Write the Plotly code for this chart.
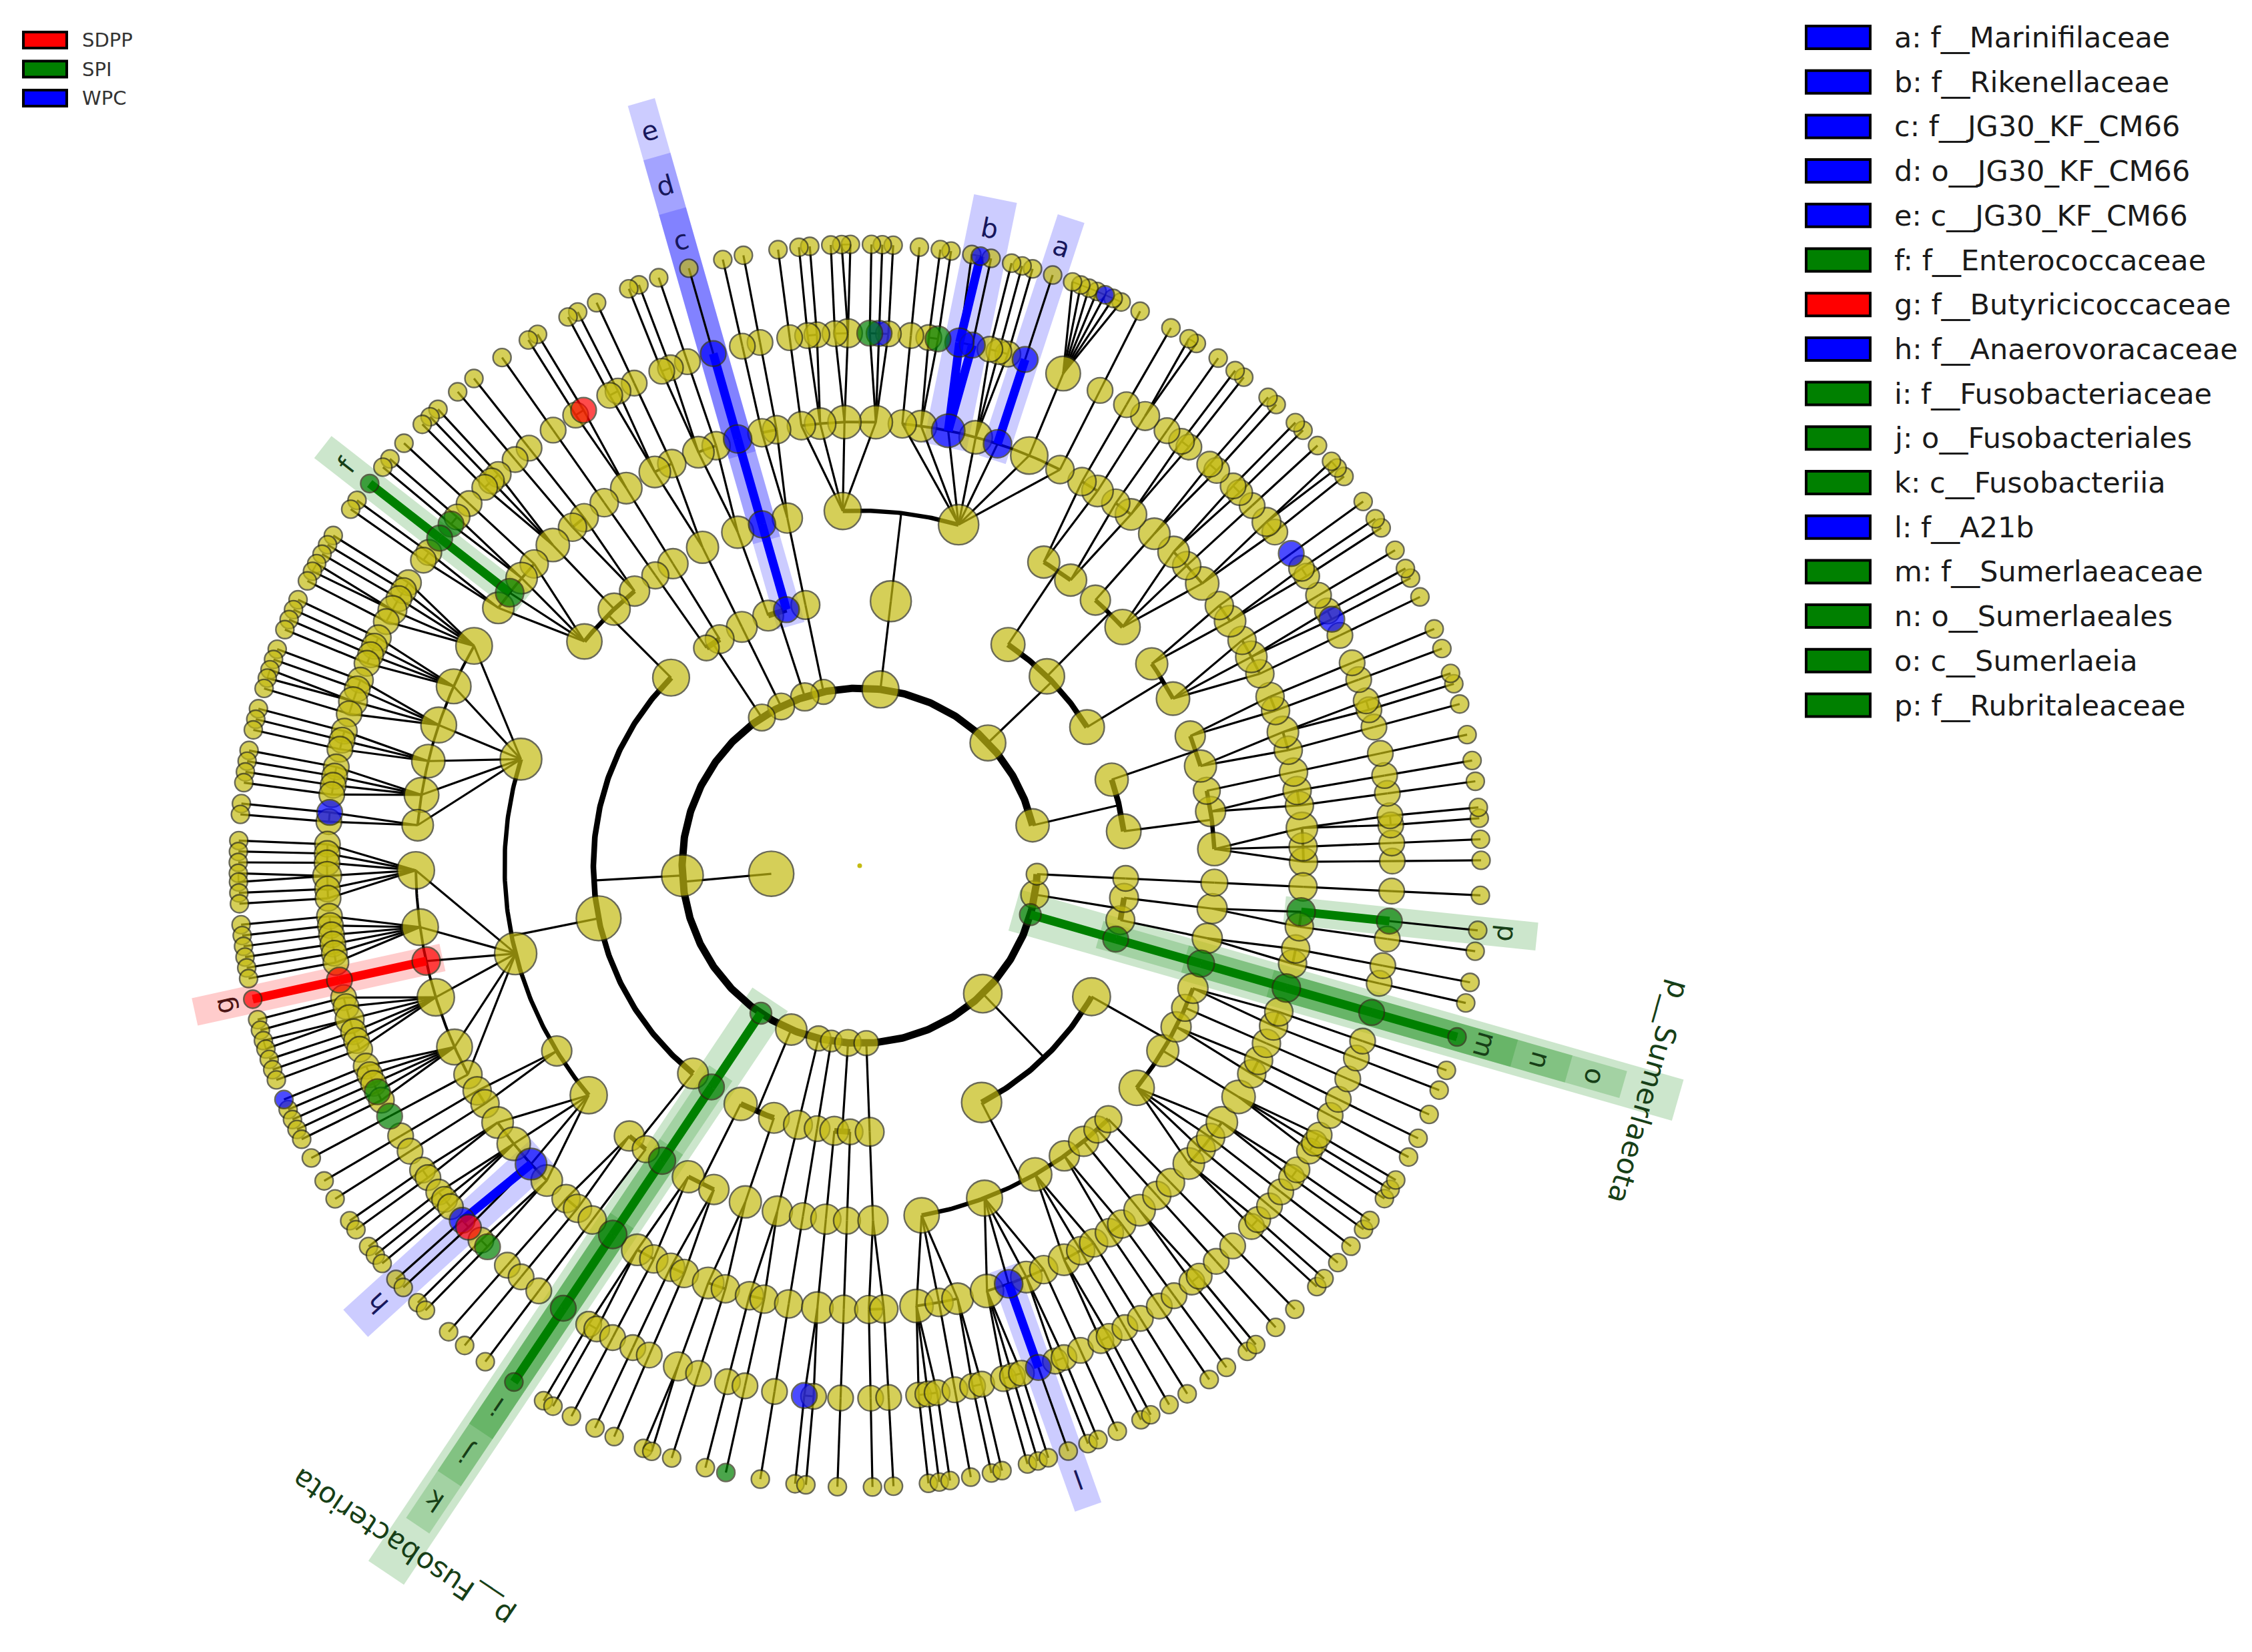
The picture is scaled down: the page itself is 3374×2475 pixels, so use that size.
import math
import plotly.graph_objects as go

# ------------------------------------------------------------------
# groups
group_names = ["SDPP", "SPI", "WPC"]
group_colors = ["#ff0000", "#008000", "#0000ff"]
group_fills = ["rgba(255,0,0,0.2)", "rgba(0,128,0,0.2)", "rgba(0,0,255,0.2)"]
group_text = ["#4d1414", "#173f17", "#17175c"]

# taxonomy tree, counter-clockwise: phylum -> class -> order -> family -> species per genus
phyla = [
    # 0
    [[[[1], [1], [1, 1]], [[1], [1]], [[1]]],
     [[[1], [1, 1]], [[1], [1]]]],
    # 1
    [[[[1], [1, 1], [1]], [[1, 1], [1]]],
     [[[1, 2], [1], [1, 1]], [[1, 1]]],
     [[[1, 1], [1]], [[2], [1]]]],
    # 2 Bacteroidota
    [[[[1], [7], [1], [1, 1, 1], [1, 2], [1, 1], [1]],
      [[1, 1, 1], [2, 1], [1, 1], [1]]]],
    # 3
    [[[[1], [1]]]],
    # 4 Chloroflexi
    [[[[1]]], [[[1], [1, 1]]]],
    # 5
    [[[[1], [1, 1]]]],
    # 6
    [[[[1, 1]]], [[[1]]]],
    # 7 Firmicutes
    [[[[1], [1]], [[1, 1, 1]], [[1], [1, 1], [1], [1, 1]]],
     [[[1, 1, 1, 2, 1], [1, 1, 1, 1], [1, 1, 2, 1], [1, 1, 1], [1, 1, 1, 1], [1, 1]],
      [[1, 1, 1, 2, 1, 1], [1, 1, 1, 1, 1, 1], [1], [1, 1, 2, 1, 1, 1], [1, 1, 1, 1, 1], [1]],
      [[1], [1]],
      [[1, 1], [1, 1, 1], [1, 1], [1, 1]]],
     [[[1], [1]], [[1]]]],
    # 8 Fusobacteriota
    [[[[1]]]],
    # 9
    [[[[1, 1], [1]], [[1], [1]]], [[[2], [1]]]],
    # 10 .. 13
    [[[[1], [1]]]],
    [[[[1]]]],
    [[[[1, 1]]], [[[1]]]],
    [[[[1], [1]]]],
    # 14 Proteobacteria
    [[[[1, 1, 1], [1], [1, 1]], [[1, 1, 1], [1], [1, 1], [1]], [[1, 1], [1], [1]],
      [[1], [1]], [[1, 1]], [[1]], [[1]]],
     [[[1, 1], [1], [1], [1, 1]], [[1, 1, 1]], [[1], [1]], [[1]], [[1], [1]]]],
    # 15 Sumerlaeota
    [[[[1]]]],
    # 16 Verrucomicrobiota
    [[[[1], [1]]], [[[1], [1]]]],
    # 17
    [[[[1]]]],
]

# biomarker nodes (tree paths) per group
sdpp_nodes = [(6, 0, 0, 0, 0), (7, 1, 1, 2), (7, 1, 1, 2, 0), (7, 1, 1, 2, 0, 0), (7, 1, 3, 2, 1)]
spi_nodes = [(2, 0, 0, 5, 0), (2, 0, 1, 0, 2),
             (7, 0, 2, 2), (7, 0, 2, 2, 0), (7, 0, 2, 2, 0, 0), (7, 0, 2, 1, 1),
             (7, 1, 1, 4, 3), (7, 1, 1, 5, 0), (7, 1, 3, 3, 1),
             (8,), (8, 0), (8, 0, 0), (8, 0, 0, 0), (8, 0, 0, 0, 0), (8, 0, 0, 0, 0, 0),
             (10, 0, 0, 1, 0, 0),
             (15,), (15, 0), (15, 0, 0), (15, 0, 0, 0), (15, 0, 0, 0, 0), (15, 0, 0, 0, 0, 0),
             (16, 1, 0, 1), (16, 1, 0, 1, 0)]
wpc_nodes = [(1, 0, 0, 1, 0), (1, 0, 1, 1, 0),
             (2, 0, 0, 1, 0, 2), (2, 0, 0, 2), (2, 0, 0, 2, 0),
             (2, 0, 0, 4), (2, 0, 0, 4, 0), (2, 0, 0, 4, 1), (2, 0, 0, 4, 1, 0),
             (2, 0, 1, 0, 1),
             (4, 0), (4, 0, 0), (4, 0, 0, 0), (4, 0, 0, 0, 0),
             (7, 1, 0, 5, 0), (7, 1, 1, 4, 0, 0), (7, 1, 3, 2), (7, 1, 3, 2, 0),
             (12, 0, 0, 0, 0), (14, 0, 1, 1), (14, 0, 1, 1, 0)]

# labelled clades: letter, name, group index, path
label_letters = list("abcdefghijklmnop")
label_names = ["f__Marinifilaceae", "f__Rikenellaceae", "f__JG30_KF_CM66", "o__JG30_KF_CM66",
               "c__JG30_KF_CM66", "f__Enterococcaceae", "f__Butyricicoccaceae",
               "f__Anaerovoracaceae", "f__Fusobacteriaceae", "o__Fusobacteriales",
               "c__Fusobacteriia", "f__A21b", "f__Sumerlaeaceae", "o__Sumerlaeales",
               "c__Sumerlaeia", "f__Rubritaleaceae"]
label_groups = [2, 2, 2, 2, 2, 1, 0, 2, 1, 1, 1, 2, 1, 1, 1, 1]
label_paths = [(2, 0, 0, 2), (2, 0, 0, 4), (4, 0, 0, 0), (4, 0, 0), (4, 0),
               (7, 0, 2, 2), (7, 1, 1, 2), (7, 1, 3, 2), (8, 0, 0, 0), (8, 0, 0), (8, 0),
               (14, 0, 1, 1), (15, 0, 0, 0), (15, 0, 0), (15, 0), (16, 1, 0, 1)]
phylum_label_names = ["p__Fusobacteriota", "p__Sumerlaeota"]
phylum_label_groups = [1, 1]
phylum_label_paths = [(8,), (15,)]

# ------------------------------------------------------------------
W_PX, H_PX = 3374, 2475
CX, CY = 1280, 1289
RSTEP = 133
THETA0 = 0.5
gap_w = [2.0, 1.8, 1.5, 1.2, 0.62, 0.5]   # by depth of the common ancestor
ring_w = {2: 11, 3: 8.5, 4: 6.5, 5: 4, 6: 3, 7: 2.5}
size_base = {1: 30, 2: 32, 3: 38, 4: 40, 5: 42, 6: 38, 7: 27}
YELLOW = "#c4bb12"
FONT = "DejaVu Sans"


def pol(r, th):
    a = math.radians(th)
    return CX + r * math.cos(a), CY - r * math.sin(a)


# build tree
children = {(): []}
leaves = []
for pi, ph in enumerate(phyla):
    for ci, cl in enumerate(ph):
        for oi, od in enumerate(cl):
            for fi, fam in enumerate(od):
                for gi, n in enumerate(fam):
                    for si in range(n):
                        leaf = (pi, ci, oi, fi, gi, si)
                        leaves.append(leaf)
                        for d in range(1, 7):
                            p = leaf[:d]
                            if p not in children:
                                children[p] = []
                                children[p[:-1]].append(p)


def common(a, b):
    k = 0
    while k < 6 and a[k] == b[k]:
        k += 1
    return k


theta = {}
acc = 0.0
for i, lf in enumerate(leaves):
    if i:
        acc += gap_w[common(leaves[i - 1], lf)]
    theta[lf] = acc
unit = 360.0 / (acc + gap_w[0])
for lf in leaves:
    theta[lf] = THETA0 + theta[lf] * unit

nleaf = {}
for p in sorted(children, key=len, reverse=True):
    cs = children[p]
    if cs:
        ts = [theta[c] for c in cs]
        theta[p] = (min(ts) + max(ts)) / 2
        nleaf[p] = sum(nleaf[c] for c in cs)
    else:
        nleaf[p] = 1


def node_xy(p):
    return pol(RSTEP * (len(p) + 1), theta[p])


bio = {}
for g, lst in enumerate([sdpp_nodes, spi_nodes, wpc_nodes]):
    for p in lst:
        bio[p] = g

fig = go.Figure()

# highlight bars
ann = []
clades = [(label_letters[i], label_groups[i], label_paths[i], 40) for i in range(len(label_paths))]
clades += [(phylum_label_names[i], phylum_label_groups[i], phylum_label_paths[i], 43)
           for i in range(len(phylum_label_paths))]
for text, g, path, fs in clades:
    L = len(path) + 1
    th = theta[path]
    lts = [theta[lf] for lf in leaves if lf[:len(path)] == path]
    span = (max(lts) - min(lts)) * math.pi / 180 * RSTEP * 7 * 0.8
    w = (64 if L == 2 else 42) + span
    lab_r = 975 + (5 - L) * 85
    r0, r1 = RSTEP * L - 25, lab_r + 45
    a = math.radians(th)
    nx, ny = math.sin(a) * w / 2, math.cos(a) * w / 2
    x0, y0 = pol(r0, th)
    x1, y1 = pol(r1, th)
    fig.add_trace(go.Scatter(x=[x0 + nx, x1 + nx, x1 - nx, x0 - nx, x0 + nx],
                             y=[y0 + ny, y1 + ny, y1 - ny, y0 - ny, y0 + ny],
                             mode="lines", fill="toself", fillcolor=group_fills[g],
                             line=dict(width=0), hoverinfo="skip"))
    lx, ly = pol(lab_r, th)
    ta = 90 - th
    while ta > 180:
        ta -= 360
    while ta <= -180:
        ta += 360
    ann.append(dict(x=lx, y=ly, text=text, showarrow=False, textangle=ta,
                    xanchor="center", yanchor="middle",
                    font=dict(family=FONT, size=fs, color=group_text[g])))

# connectors
bx, by = [], []
arcs = {k: ([], []) for k in ring_w}


def seg(p0, p1):
    bx.extend([p0[0], p1[0], None])
    by.extend([p0[1], p1[1], None])


for p, cs in children.items():
    if not cs:
        continue
    L = len(p) + 1
    r0, r1 = RSTEP * L, RSTEP * (L + 1)
    ts = [theta[c] for c in cs]
    if L <= 3:
        seg(pol(r0, theta[p]), pol(r1, theta[p]))
    else:
        for c in cs:
            seg(pol(r0, theta[p]), pol(r1, theta[c]))
    if len(cs) > 1:
        t0, t1 = min(ts), max(ts)
        n = max(2, int((t1 - t0) / 0.5) + 1)
        ax_, ay_ = arcs[L + 1]
        for k in range(n + 1):
            x, y = pol(r1, t0 + (t1 - t0) * k / n)
            ax_.append(x)
            ay_.append(y)
        ax_.append(None)
        ay_.append(None)

fig.add_trace(go.Scatter(x=bx, y=by, mode="lines", line=dict(color="black", width=3.2),
                         hoverinfo="skip"))
for ring, (ax_, ay_) in arcs.items():
    fig.add_trace(go.Scatter(x=ax_, y=ay_, mode="lines", hoverinfo="skip",
                             line=dict(color="black", width=ring_w[ring])))

for g in range(3):
    cx_, cy_ = [], []
    for p, pg in bio.items():
        q = p[:-1]
        if pg == g and q in bio and bio[q] == g:
            x0, y0 = node_xy(q)
            x1, y1 = node_xy(p)
            cx_.extend([x0, x1, None])
            cy_.extend([y0, y1, None])
    fig.add_trace(go.Scatter(x=cx_, y=cy_, mode="lines", hoverinfo="skip",
                             line=dict(color=group_colors[g], width=13)))

# nodes
order = sorted([p for p in children if p != ()], key=lambda p: (p in bio, len(p)))
order = [()] + order
nx_, ny_, ns, nc = [], [], [], []
for p in order:
    x, y = node_xy(p)
    nx_.append(x)
    ny_.append(y)
    ns.append(size_base[len(p) + 1] + 7 * math.log(nleaf[p]))
    nc.append(group_colors[bio[p]] if p in bio else YELLOW)
fig.add_trace(go.Scatter(x=nx_, y=ny_, mode="markers", hoverinfo="skip",
                         marker=dict(size=ns, color=nc, line=dict(color="#2b2b12", width=2.4))))
fig.add_trace(go.Scatter(x=[CX], y=[CY], mode="markers", hoverinfo="skip",
                         marker=dict(size=7, color=YELLOW)))

# legends
shapes = []
for i, g in enumerate(label_groups):
    yc = 48 + 66.7 * i
    shapes.append(dict(type="rect", x0=2698, x1=2794, y0=yc - 17, y1=yc + 17,
                       fillcolor=group_colors[g], line=dict(color="black", width=4)))
    ann.append(dict(x=2828, y=yc, text=label_letters[i] + ": " + label_names[i],
                    showarrow=False, xanchor="left", yanchor="middle",
                    font=dict(family=FONT, size=43, color="#1a1a1a")))
for i, name in enumerate(group_names):
    yc = 52 + 43.5 * i
    shapes.append(dict(type="rect", x0=27, x1=92, y0=yc - 12, y1=yc + 12,
                       fillcolor=group_colors[i], line=dict(color="black", width=4)))
    ann.append(dict(x=113, y=yc, text=name, showarrow=False, xanchor="left",
                    yanchor="middle", font=dict(family=FONT, size=29, color="#333333")))

fig.update_layout(width=W_PX, height=H_PX, margin=dict(l=0, r=0, t=0, b=0),
                  paper_bgcolor="white", plot_bgcolor="white", showlegend=False,
                  xaxis=dict(range=[0, W_PX], visible=False, fixedrange=True),
                  yaxis=dict(range=[H_PX, 0], visible=False, fixedrange=True),
                  shapes=shapes, annotations=ann)

fig.write_html("out.html")
